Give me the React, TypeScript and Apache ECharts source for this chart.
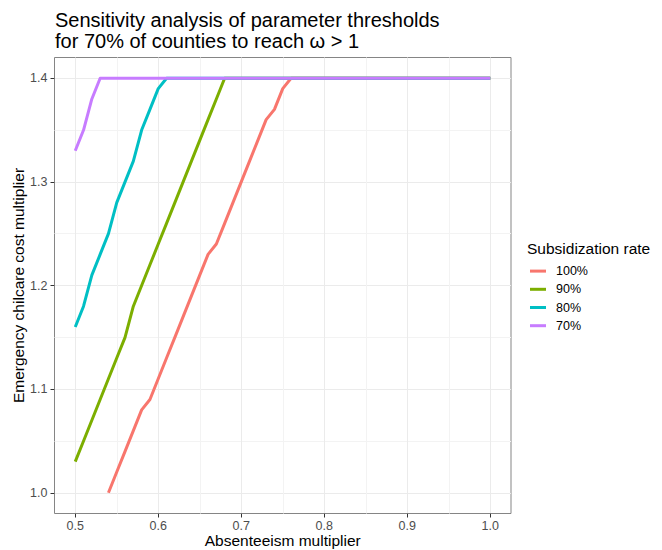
import React, { useEffect, useRef } from "react";
import * as echarts from "echarts";

const absenteeism = [
  0.5, 0.51, 0.52, 0.53, 0.54, 0.55, 0.56, 0.57, 0.58, 0.59,
  0.6, 0.61, 0.62, 0.63, 0.64, 0.65, 0.66, 0.67, 0.68, 0.69,
  0.7, 0.71, 0.72, 0.73, 0.74, 0.75, 0.76, 0.77, 0.78, 0.79,
  0.8, 0.81, 0.82, 0.83, 0.84, 0.85, 0.86, 0.87, 0.88, 0.89,
  0.9, 0.91, 0.92, 0.93, 0.94, 0.95, 0.96, 0.97, 0.98, 0.99, 1.0,
];

const rate100 = [
  null, null, null, null, 1.0, 1.02, 1.04, 1.06, 1.08, 1.09,
  1.11, 1.13, 1.15, 1.17, 1.19, 1.21, 1.23, 1.24, 1.26, 1.28,
  1.3, 1.32, 1.34, 1.36, 1.37, 1.39, 1.4, 1.4, 1.4, 1.4,
  1.4, 1.4, 1.4, 1.4, 1.4, 1.4, 1.4, 1.4, 1.4, 1.4,
  1.4, 1.4, 1.4, 1.4, 1.4, 1.4, 1.4, 1.4, 1.4, 1.4, 1.4,
];
const rate90 = [
  1.03, 1.05, 1.07, 1.09, 1.11, 1.13, 1.15, 1.18, 1.2, 1.22,
  1.24, 1.26, 1.28, 1.3, 1.32, 1.34, 1.36, 1.38, 1.4, 1.4,
  1.4, 1.4, 1.4, 1.4, 1.4, 1.4, 1.4, 1.4, 1.4, 1.4,
  1.4, 1.4, 1.4, 1.4, 1.4, 1.4, 1.4, 1.4, 1.4, 1.4,
  1.4, 1.4, 1.4, 1.4, 1.4, 1.4, 1.4, 1.4, 1.4, 1.4, 1.4,
];
const rate80 = [
  1.16, 1.18, 1.21, 1.23, 1.25, 1.28, 1.3, 1.32, 1.35, 1.37,
  1.39, 1.4, 1.4, 1.4, 1.4, 1.4, 1.4, 1.4, 1.4, 1.4,
  1.4, 1.4, 1.4, 1.4, 1.4, 1.4, 1.4, 1.4, 1.4, 1.4,
  1.4, 1.4, 1.4, 1.4, 1.4, 1.4, 1.4, 1.4, 1.4, 1.4,
  1.4, 1.4, 1.4, 1.4, 1.4, 1.4, 1.4, 1.4, 1.4, 1.4, 1.4,
];
const rate70 = [
  1.33, 1.35, 1.38, 1.4, 1.4, 1.4, 1.4, 1.4, 1.4, 1.4,
  1.4, 1.4, 1.4, 1.4, 1.4, 1.4, 1.4, 1.4, 1.4, 1.4,
  1.4, 1.4, 1.4, 1.4, 1.4, 1.4, 1.4, 1.4, 1.4, 1.4,
  1.4, 1.4, 1.4, 1.4, 1.4, 1.4, 1.4, 1.4, 1.4, 1.4,
  1.4, 1.4, 1.4, 1.4, 1.4, 1.4, 1.4, 1.4, 1.4, 1.4, 1.4,
];

const seriesNames = ["100%", "90%", "80%", "70%"];
const seriesValues = [rate100, rate90, rate80, rate70];
const seriesColors = ["#F8766D", "#7CAE00", "#00BFC4", "#C77CFF"];

const xMajorTicks = [0.5, 0.6, 0.7, 0.8, 0.9, 1.0];
const xMinorTicks = [0.55, 0.65, 0.75, 0.85, 0.95];
const yMajorTicks = [1.0, 1.1, 1.2, 1.3, 1.4];
const yMinorTicks = [1.05, 1.15, 1.25, 1.35];

const FONT = "'Liberation Sans', Arial, Helvetica, sans-serif";

export default function App() {
  const ref = useRef<HTMLDivElement>(null);

  useEffect(() => {
    if (!ref.current) return;
    document.body.style.margin = "0";
    const chart = echarts.init(ref.current, null, { renderer: "svg" });

    const tickLabelStyle = {
      color: "#4D4D4D",
      fontSize: 12.5,
      fontFamily: FONT,
    };
    const axisNameStyle = {
      color: "#000000",
      fontSize: 15.5,
      lineHeight: 15.5,
      fontFamily: FONT,
    };

    const option: any = {
      animation: false,
      backgroundColor: "#ffffff",
      title: [
        {
          text: "Sensitivity analysis of parameter thresholds\nfor 70% of counties to reach ω > 1",
          left: 55,
          top: 9,
          padding: 0,
          textStyle: {
            color: "#000000",
            fontSize: 20,
            fontWeight: "normal",
            lineHeight: 21.5,
            fontFamily: FONT,
          },
        },
        {
          text: "Subsidization rate",
          left: 527,
          top: 239,
          padding: 0,
          textStyle: {
            color: "#000000",
            fontSize: 15.5,
            fontWeight: "normal",
            lineHeight: 18,
            fontFamily: FONT,
          },
        },
      ],
      legend: {
        orient: "vertical",
        left: 530,
        top: 262,
        padding: 0,
        itemGap: 0,
        itemWidth: 16,
        itemHeight: 3,
        icon: "rect",
        data: seriesNames,
        textStyle: {
          color: "#000000",
          fontSize: 12.5,
          lineHeight: 18.2,
          fontFamily: FONT,
          padding: [0, 0, 0, 5],
        },
      },
      grid: {
        left: 54.5,
        right: 151,
        top: 57.5,
        bottom: 36.5,
        show: true,
        borderColor: "#858585",
        borderWidth: 1,
        backgroundColor: "#ffffff",
        containLabel: false,
        outerBoundsMode: "none",
      },
      xAxis: [
        {
          type: "value",
          min: 0.475,
          max: 1.025,
          axisLine: { show: false },
          axisTick: {
            show: true,
            length: 4,
            lineStyle: { color: "#333333", width: 1 },
            customValues: xMajorTicks,
          },
          axisLabel: {
            ...tickLabelStyle,
            margin: 6,
            customValues: xMajorTicks,
            formatter: (v: number) => v.toFixed(1),
          },
          splitLine: { show: true, lineStyle: { color: "#EBEBEB", width: 1 } },
          name: "Absenteeism multiplier",
          nameLocation: "middle",
          nameGap: 19,
          nameMoveOverlap: false,
          nameTextStyle: axisNameStyle,
        },
        {
          type: "value",
          min: 0.475,
          max: 1.025,
          position: "bottom",
          axisLine: { show: false },
          axisTick: { show: false, customValues: xMinorTicks },
          axisLabel: { show: false, customValues: xMinorTicks },
          splitLine: { show: true, lineStyle: { color: "#F3F3F3", width: 1 } },
        },
      ],
      yAxis: [
        {
          type: "value",
          min: 0.98,
          max: 1.42,
          axisLine: { show: false },
          axisTick: {
            show: true,
            length: 4,
            lineStyle: { color: "#333333", width: 1 },
            customValues: yMajorTicks,
          },
          axisLabel: {
            ...tickLabelStyle,
            margin: 7,
            customValues: yMajorTicks,
            formatter: (v: number) => v.toFixed(1),
          },
          splitLine: { show: true, lineStyle: { color: "#EBEBEB", width: 1 } },
          name: "Emergency chilcare cost multiplier",
          nameLocation: "middle",
          nameRotate: 90,
          nameGap: 28,
          nameMoveOverlap: false,
          nameTextStyle: axisNameStyle,
        },
        {
          type: "value",
          min: 0.98,
          max: 1.42,
          position: "left",
          axisLine: { show: false },
          axisTick: { show: false, customValues: yMinorTicks },
          axisLabel: { show: false, customValues: yMinorTicks },
          splitLine: { show: true, lineStyle: { color: "#F3F3F3", width: 1 } },
        },
      ],
      series: seriesNames.map((name, i) => ({
        name,
        type: "line",
        xAxisIndex: 0,
        yAxisIndex: 0,
        symbol: "none",
        connectNulls: false,
        color: seriesColors[i],
        lineStyle: { color: seriesColors[i], width: 3, join: "round", cap: "butt" },
        itemStyle: { color: seriesColors[i] },
        data: absenteeism.map((x, j) => [x, seriesValues[i][j]]),
      })),
    };

    chart.setOption(option);
    return () => chart.dispose();
  }, []);

  return <div ref={ref} style={{ width: 662, height: 550 }} />;
}
